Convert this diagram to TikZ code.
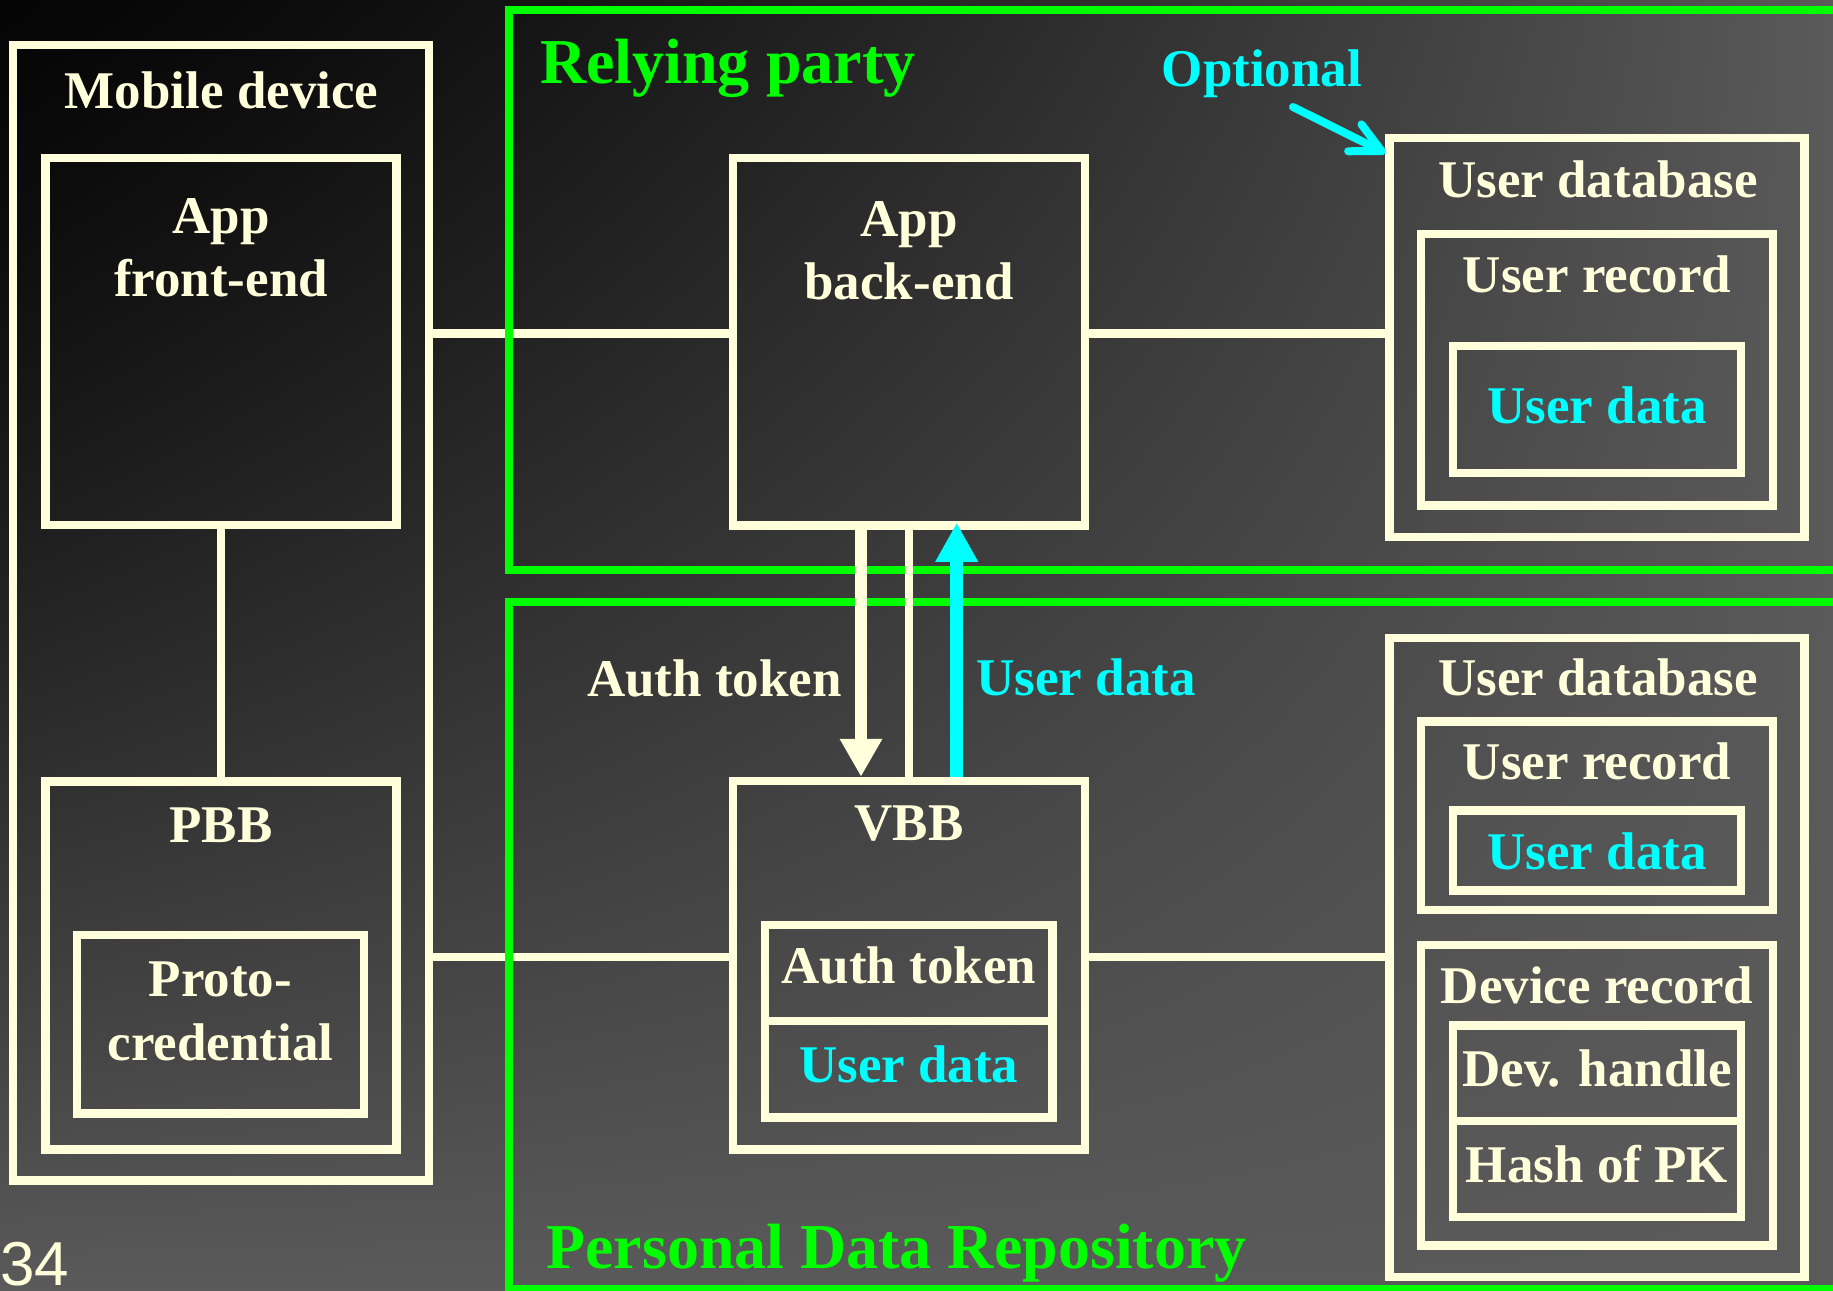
\documentclass[tikz,border=0pt]{standalone}
\usepackage{fontspec}
\setmainfont{Liberation Serif}
\newfontfamily\slidenumfont{Liberation Sans}
\usetikzlibrary{arrows.meta,calc,shadings}

\definecolor{cream}{HTML}{FFFFDC}
\definecolor{lime}{HTML}{00FF00}
\definecolor{aqua}{HTML}{00FFFF}

% backdrop: dark in the upper left corner, lightening towards the other edges
% (the path is mapped onto the square 25bp..75bp of the shading)
\pgfdeclarefunctionalshading{backdrop}{\pgfpoint{0bp}{0bp}}{\pgfpoint{100bp}{100bp}}{}{
  75 exch sub 50 div
  exch 25 sub 50 div
  dup 0 lt {pop 0} if dup 1 gt {pop 1} if
  exch dup 0 lt {pop 0} if dup 1 gt {pop 1} if
  2 copy mul
  3 1 roll add exch sub
  dup 0 lt {pop 0} if
  1.4 exp
  85 mul 5 add 255 div
  dup dup
}

\begin{document}
\begin{tikzpicture}[x=1pt,y=-1pt,
  box/.style={draw=cream, line width=8.5pt, rectangle, inner sep=0pt},
  gbox/.style={draw=lime, line width=7.6pt, rectangle, inner sep=0pt},
  link/.style={draw=cream, line width=8.5pt},
  lbl/.style={text=cream, font=\fontsize{53}{63}\selectfont\bfseries, inner sep=0pt, anchor=base},
  cyanlbl/.style={lbl, text=aqua},
  title/.style={text=lime, font=\fontsize{64}{74}\selectfont\bfseries, inner sep=0pt, anchor=base west},
]
% canvas and background shading
\useasboundingbox (0,0) rectangle (1833,1290);
\clip (0,0) rectangle (1833,1290);
\shade[shading=backdrop] (0,0) rectangle (1833,1290);

% reference rows for the horizontal links
\coordinate (rowA) at (0,333.3);
\coordinate (rowB) at (0,957);

% boxes (drawn later, declared first so links can refer to them)
\path
  node[box, draw=none, minimum width=416pt, minimum height=1135.7pt] (mobile) at (221,612.85) {}
  node[box, draw=none, minimum width=351pt, minimum height=367pt] (frontend) at (221,341.5) {}
  node[box, draw=none, minimum width=351pt, minimum height=368pt] (pbb) at (221,965.5) {}
  node[box, draw=none, minimum width=352pt, minimum height=367.5pt] (backend) at (909,341.75) {}
  node[box, draw=none, minimum width=352pt, minimum height=368.5pt] (vbb) at (909,965.25) {}
  node[box, draw=none, minimum width=415pt, minimum height=399pt] (udbA) at (1597,337.5) {}
  node[box, draw=none, minimum width=415pt, minimum height=639pt] (udbB) at (1597,957.5) {};

% horizontal links
\draw[link] (mobile.east |- rowA) -- (backend.west |- rowA);
\draw[link] (backend.east |- rowA) -- (udbA.west |- rowA);
\draw[link] (mobile.east |- rowB) -- (vbb.west |- rowB);
\draw[link] (vbb.east |- rowB) -- (udbB.west |- rowB);

% party frames
\node[gbox, minimum width=1340pt, minimum height=560pt] (rp) at (1179,290) {};
\node[gbox, minimum width=1340pt, minimum height=687pt] (pdr) at (1179,945.5) {};

% mobile device side
\node[box, minimum width=416pt, minimum height=1135.7pt] at (mobile) {};
\node[box, minimum width=351pt, minimum height=367pt] at (frontend) {};
\node[box, minimum width=351pt, minimum height=368pt] at (pbb) {};
\node[box, minimum width=287pt, minimum height=178.7pt] (proto) at (220.5,1024.35) {};
\draw[link] (frontend.south) -- (pbb.north);

% relying party side
\node[box, minimum width=352pt, minimum height=367.5pt] at (backend) {};
\node[box, minimum width=415pt, minimum height=399pt] at (udbA) {};
\node[box, minimum width=352pt, minimum height=271.5pt] (urecA) at (1597,369.75) {};
\node[box, minimum width=288pt, minimum height=127pt] (udatA) at (1597,409.5) {};

% repository side
\node[box, minimum width=352pt, minimum height=368.5pt] at (vbb) {};
\node[box, minimum width=287.6pt, minimum height=96pt] (vtok) at (908.8,973) {};
\node[box, minimum width=287.6pt, minimum height=96.6pt] (vdat) at (908.8,1069.3) {};
\node[box, minimum width=415pt, minimum height=639pt] at (udbB) {};
\node[box, minimum width=352pt, minimum height=188.5pt] (urecB) at (1597,815.75) {};
\node[box, minimum width=288pt, minimum height=80pt] (udatB) at (1597,850.5) {};
\node[box, minimum width=352pt, minimum height=300.5pt] (devrec) at (1597,1095.25) {};
\node[box, minimum width=288pt, minimum height=95.5pt] (devh) at (1597,1073.25) {};
\node[box, minimum width=288pt, minimum height=96pt] (hpk) at (1597,1169) {};

% back-end <-> VBB exchange
\coordinate (tokx) at (861,0);
\coordinate (datx) at (956.7,0);
\draw[cream, line width=12pt, -{Triangle[length=38pt,width=40pt]}]
  (backend.south -| tokx) -- (vbb.north -| tokx);
\draw[cream, line width=8pt] (backend.south) -- (vbb.north);
\draw[aqua, line width=13pt, -{Triangle[length=39pt,width=40pt]}, shorten >=-7pt]
  (vbb.north -| datx) -- (backend.south -| datx);

% note pointing at the relying party's database
\node[cyanlbl] (optional) at (1262,86) {Optional};
\coordinate (optfrom) at (1293,107);
\draw[aqua, line width=8pt, line cap=round,
      -{Straight Barb[length=30pt,width=30pt,round]}]
  (optfrom) -- (udbA.west |- 0,153);

% titles
\node[title] (rptitle) at (540,84) {Relying party};
\node[title] (pdrtitle) at (546,1268) {Personal Data Repository};

% box captions
\node[lbl] (tMobile) at (221.5,108) {Mobile device};
\node[lbl] (tApp1) at (221,233.5) {App};
\node[lbl] (tFront) at (221,296.6) {front-end};
\node[lbl] (tPBB) at (221,842.6) {PBB};
\node[lbl] (tProto) at (220.5,996.6) {Proto-};
\node[lbl] (tCred) at (220.5,1060) {credential};
\node[lbl] (tApp2) at (909,236) {App};
\node[lbl] (tBack) at (909,299) {back-end};
\node[lbl] (tVBB) at (909,840) {VBB};
\node[lbl] (tVtok) at (908.8,983) {Auth token};
\node[cyanlbl] (tVdat) at (908.8,1082.6) {User data};
\node[lbl] (tTok) at (714.5,696.8) {Auth token};
\node[cyanlbl] (tDat) at (1086,695.5) {User data};

\node[lbl] (tUdbA) at (1598,197) {User database};
\node[lbl] (tUrecA) at (1597,292.8) {User record};
\node[cyanlbl] (tUdatA) at (1597,423) {User data};
\node[lbl] (tUdbB) at (1598,695.5) {User database};
\node[lbl] (tUrecB) at (1597,779) {User record};
\node[cyanlbl] (tUdatB) at (1597,869.8) {User data};
\node[lbl] (tDev) at (1597,1003) {Device record};
\node[lbl] (tDevh) at (1597,1086) {Dev. handle};
\node[lbl] (tHpk) at (1597,1182) {Hash of PK};

% slide number
\node[text=cream, font=\fontsize{62}{72}\slidenumfont, inner sep=0pt, anchor=base west] (pageno) at (0,1285) {34};
\end{tikzpicture}
\end{document}
